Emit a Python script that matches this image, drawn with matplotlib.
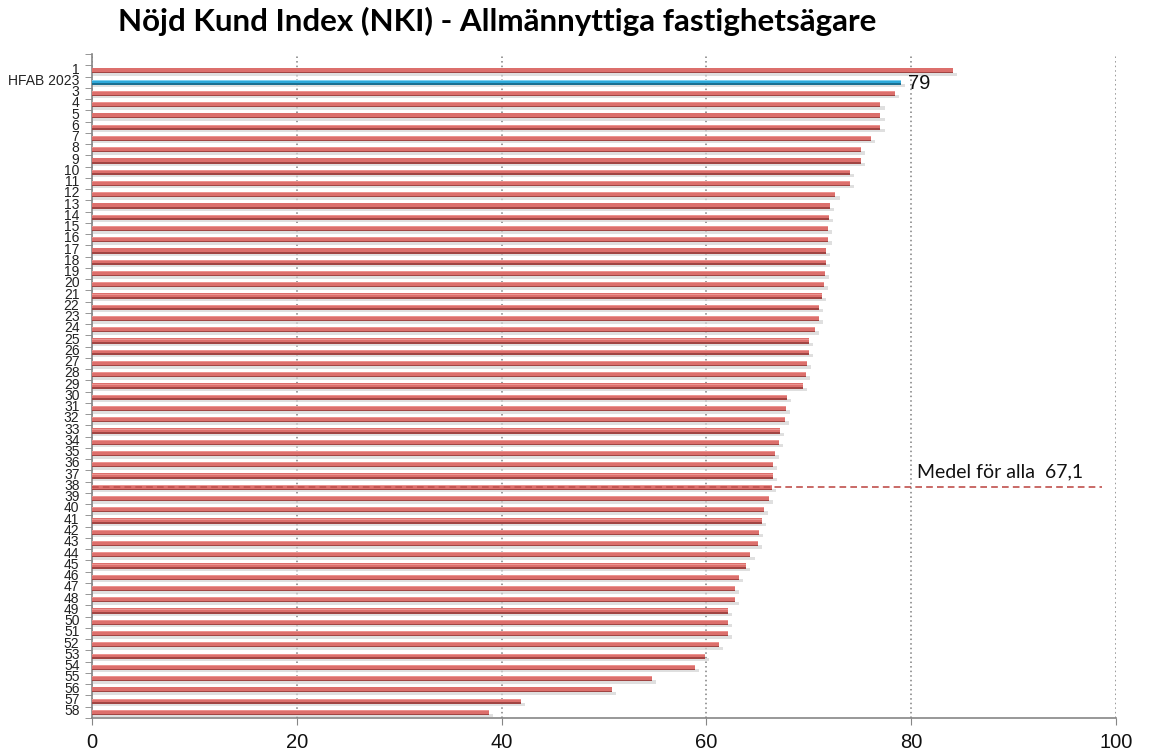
import numpy as np
import matplotlib
matplotlib.use("Agg")
from matplotlib import pyplot as plt

# Categories (rank labels), the own company sits at rank 2
labels = ["1", "HFAB 2023"] + [str(i) for i in range(3, 59)]
values = [84.1, 79.0, 78.4, 77.0, 77.0, 77.0, 76.1, 75.1, 75.1, 74.0,
          74.0, 72.6, 72.1, 72.0, 71.9, 71.9, 71.7, 71.7, 71.6, 71.5,
          71.3, 71.0, 71.0, 70.6, 70.0, 70.0, 69.8, 69.7, 69.4, 67.9,
          67.8, 67.7, 67.2, 67.1, 66.7, 66.5, 66.5, 66.4, 66.1, 65.6,
          65.4, 65.1, 65.0, 64.3, 63.9, 63.2, 62.8, 62.8, 62.1, 62.1,
          62.1, 61.2, 59.9, 58.9, 54.7, 50.8, 41.9, 38.8]
highlight = "HFAB 2023"
highlight_label = "79"
mean_value = 67.1
mean_text = "Medel för alla  67,1"
mean_row = "38"
title = "Nöjd Kund Index (NKI) - Allmännyttiga fastighetsägare"
xticks = [0, 20, 40, 60, 80, 100]

fig = plt.figure(figsize=(11.57, 7.5), dpi=100)
ax = fig.add_axes([92 / 1157, 1 - 718 / 750, (1116 - 92) / 1157, (718 - 54) / 750])

y = np.arange(len(labels))
vals = np.array(values)
is_hl = np.array([l == highlight for l in labels])

main_col = np.where(is_hl, "#2ea9da", "#dc6f6c")
top_col = np.where(is_hl, "#7fd0ef", "#ec9390")
bot_col = np.where(is_hl, "#1b6f90", "#a04543")

# shadow, body, light top edge, dark lower edge
ax.barh(y + 0.3, vals + 0.4, height=0.3, color="#d2d2d2", alpha=0.7, zorder=2)
ax.barh(y, vals, height=0.46, color=main_col, zorder=3)
ax.barh(y - 0.17, vals, height=0.08, color=top_col, zorder=4)
ax.barh(y + 0.17, vals, height=0.12, color=bot_col, zorder=4)

ax.set_ylim(len(labels) - 0.5, -1.5)
ax.set_xlim(0, 100)
ax.set_yticks(y - 0.25)
ax.set_yticklabels(labels, family=["Liberation Sans", "DejaVu Sans"], fontsize=10,
                   color="#222222")
ax.set_yticks(np.arange(-1.5, len(labels), 1.0), minor=True)
ax.tick_params(axis="y", which="major", length=0, pad=9)
ax.tick_params(axis="y", which="minor", length=5, color="#868686", direction="out")

ax.set_xticks(xticks)
ax.set_xticklabels([str(v) for v in xticks], family=["Liberation Sans", "DejaVu Sans"],
                   fontsize=14.5, color="#111111")
ax.tick_params(axis="x", length=5, color="#868686", pad=6)

ax.grid(axis="x", color="#7f7f7f", linestyle=(0, (1, 2)), linewidth=1.1, zorder=0)
ax.set_axisbelow(True)
for s in ["top", "right"]:
    ax.spines[s].set_visible(False)
for s in ["left", "bottom"]:
    ax.spines[s].set_color("#868686")
    ax.spines[s].set_linewidth(1.2)

# value label for the highlighted company
hi = labels.index(highlight)
ax.text(values[hi] + 0.7, hi + 0.1, highlight_label, va="center", ha="left",
        family=["Liberation Sans", "DejaVu Sans"], fontsize=14.5, color="#111111", zorder=5)

# mean line
mi = labels.index(mean_row)
ax.plot([0, 98.6], [mi, mi], color="#c0504d", linestyle=(0, (4, 2.5)), linewidth=1.2,
        zorder=5, clip_on=False)
ax.text(80.6, mi - 1.4, mean_text, ha="left", va="center",
        family=["Lato", "DejaVu Sans"], fontsize=14, color="#111111")

fig.text(0.43, 0.972, title, ha="center", va="center",
         family=["Lato", "DejaVu Sans"], fontweight="bold",
         fontsize=22.6, color="#000000")

fig.savefig("out.png", dpi=100)
